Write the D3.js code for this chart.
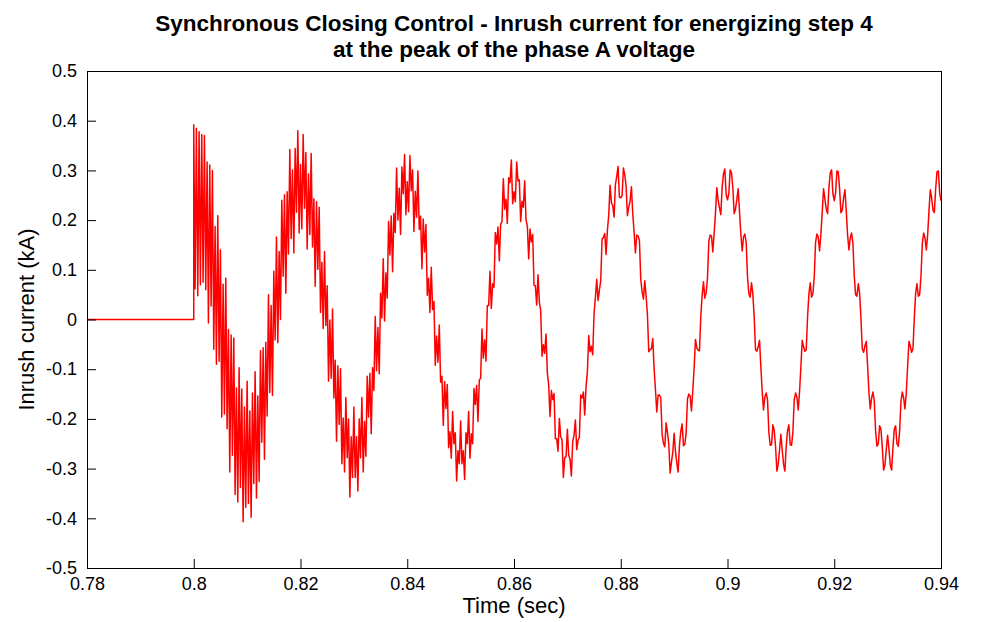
<!DOCTYPE html>
<html>
<head>
<meta charset="utf-8">
<script src="https://cdn.jsdelivr.net/npm/d3@7"></script>
<style>
  body { margin: 0; background: #fff; }
  svg { display: block; font-family: "Liberation Sans", Arial, Helvetica, sans-serif; }
</style>
</head>
<body>
<svg id="chart" width="994" height="622"></svg>
<script>
// axis ticks
const xTicks = [0.78, 0.8, 0.82, 0.84, 0.86, 0.88, 0.9, 0.92, 0.94];
const xTickLabels = ["0.78", "0.8", "0.82", "0.84", "0.86", "0.88", "0.9", "0.92", "0.94"];
const yTicks = [-0.5, -0.4, -0.3, -0.2, -0.1, 0, 0.1, 0.2, 0.3, 0.4, 0.5];
const yTickLabels = ["-0.5", "-0.4", "-0.3", "-0.2", "-0.1", "0", "0.1", "0.2", "0.3", "0.4", "0.5"];

// breaker still open: no current before closing
const preClose = [[0.78, 0], [0.8, 0]];

// recorded inrush current (kA), one sample every 0.25 ms from the closing instant
const closeTime = 0.8;
const dt = 0.00025;

// 0.80 - 0.82 s
const cycle1 = [
  0.392, 0.062, 0.385, 0.048, 0.378, 0.070, 0.372, 0.075, 0.370, 0.060,
  0.317, -0.007, 0.311, 0.027, 0.300, -0.060, 0.187, -0.090, 0.209, -0.084,
  0.140, -0.196, 0.071, -0.190, 0.083, -0.220, -0.020, -0.307, -0.031, -0.273,
  -0.037, -0.352, -0.138, -0.367, -0.097, -0.338, -0.140, -0.407, -0.176, -0.378,
  -0.124, -0.370, -0.184, -0.398, -0.148, -0.330, -0.105, -0.359, -0.154, -0.326,
  -0.063, -0.247, -0.057, -0.281, -0.046, -0.194, 0.050, -0.147, 0.028, -0.153,
  0.097, -0.041, 0.166, -0.047, 0.137, 0.000, 0.240, 0.087, 0.251, 0.053,
  0.257, 0.132, 0.342, 0.163, 0.301, 0.134, 0.344, 0.216, 0.380, 0.174
];
// 0.82 - 0.84 s
const cycle2 = [
  0.312, 0.182, 0.372, 0.224, 0.336, 0.142, 0.293, 0.171, 0.334, 0.146,
  0.243, 0.067, 0.237, 0.101, 0.226, 0.014, 0.115, -0.018, 0.137, -0.012,
  0.068, -0.124, -0.001, -0.118, 0.021, -0.158, -0.082, -0.245, -0.093, -0.211,
  -0.099, -0.290, -0.198, -0.307, -0.157, -0.278, -0.200, -0.357, -0.236, -0.318,
  -0.176, -0.318, -0.236, -0.345, -0.200, -0.278, -0.157, -0.307, -0.205, -0.275,
  -0.114, -0.196, -0.108, -0.230, -0.097, -0.143, 0.006, -0.103, -0.016, -0.109,
  0.053, 0.003, 0.122, -0.003, 0.094, 0.043, 0.197, 0.130, 0.208, 0.096,
  0.214, 0.175, 0.305, 0.200, 0.264, 0.171, 0.307, 0.253, 0.332, 0.211
];
// 0.84 - 0.86 s
const cycle3 = [
  0.277, 0.217, 0.330, 0.259, 0.301, 0.177, 0.258, 0.206, 0.299, 0.181,
  0.208, 0.102, 0.202, 0.136, 0.191, 0.049, 0.083, 0.014, 0.105, 0.020,
  0.036, -0.092, -0.033, -0.086, -0.011, -0.126, -0.114, -0.213, -0.125, -0.179,
  -0.131, -0.258, -0.226, -0.279, -0.185, -0.250, -0.228, -0.325, -0.264, -0.290,
  -0.204, -0.290, -0.264, -0.322, -0.228, -0.250, -0.185, -0.279, -0.230, -0.250,
  -0.139, -0.171, -0.133, -0.205, -0.122, -0.118, -0.019, -0.078, -0.041, -0.084,
  0.028, 0.028, 0.097, 0.022, 0.072, 0.065, 0.175, 0.152, 0.186, 0.118,
  0.192, 0.197, 0.283, 0.222, 0.242, 0.193, 0.285, 0.275, 0.321, 0.233
];
// 0.86 - 0.88 s
const cycle4 = [
  0.257, 0.237, 0.317, 0.279, 0.281, 0.197, 0.238, 0.226, 0.279, 0.201,
  0.188, 0.122, 0.182, 0.156, 0.171, 0.069, 0.068, 0.029, 0.090, 0.035,
  0.018, -0.074, -0.051, -0.068, -0.029, -0.108, -0.132, -0.195, -0.143, -0.161,
  -0.149, -0.240, -0.240, -0.265, -0.199, -0.236, -0.242, -0.318, -0.278, -0.276,
  -0.221, -0.273, -0.281, -0.315, -0.245, -0.233, -0.202, -0.262, -0.243, -0.237,
  -0.152, -0.158, -0.146, -0.192, -0.135, -0.105, -0.032, -0.065, -0.054, -0.071,
  0.012, 0.044, 0.081, 0.038, 0.059, 0.078, 0.162, 0.165, 0.173, 0.131,
  0.179, 0.210, 0.270, 0.235, 0.229, 0.206, 0.272, 0.288, 0.308, 0.246
];
// 0.88 - 0.90 s
const cycle5 = [
  0.245, 0.249, 0.305, 0.291, 0.269, 0.209, 0.226, 0.238, 0.267, 0.213,
  0.176, 0.134, 0.170, 0.168, 0.159, 0.081, 0.056, 0.041, 0.078, 0.047,
  0.009, -0.065, -0.060, -0.059, -0.038, -0.099, -0.141, -0.186, -0.152, -0.152,
  -0.158, -0.231, -0.249, -0.256, -0.208, -0.227, -0.251, -0.309, -0.287, -0.267,
  -0.229, -0.265, -0.289, -0.307, -0.253, -0.225, -0.210, -0.254, -0.251, -0.229,
  -0.160, -0.150, -0.154, -0.184, -0.143, -0.097, -0.040, -0.057, -0.062, -0.063,
  0.007, 0.049, 0.076, 0.043, 0.054, 0.083, 0.157, 0.170, 0.168, 0.136,
  0.174, 0.215, 0.265, 0.240, 0.224, 0.211, 0.267, 0.293, 0.303, 0.251
];
// 0.90 - 0.92 s
const cycle6 = [
  0.241, 0.253, 0.301, 0.295, 0.265, 0.213, 0.222, 0.242, 0.263, 0.217,
  0.172, 0.138, 0.166, 0.172, 0.155, 0.085, 0.052, 0.045, 0.074, 0.051,
  0.005, -0.061, -0.064, -0.055, -0.042, -0.095, -0.145, -0.182, -0.156, -0.148,
  -0.162, -0.227, -0.253, -0.252, -0.212, -0.223, -0.255, -0.305, -0.291, -0.263,
  -0.231, -0.263, -0.291, -0.305, -0.255, -0.223, -0.212, -0.252, -0.253, -0.227,
  -0.162, -0.148, -0.156, -0.182, -0.145, -0.095, -0.042, -0.055, -0.064, -0.061,
  0.005, 0.051, 0.074, 0.045, 0.052, 0.085, 0.155, 0.172, 0.166, 0.138,
  0.172, 0.217, 0.263, 0.242, 0.222, 0.213, 0.265, 0.295, 0.301, 0.253
];
// 0.92 - 0.94 s
const cycle7 = [
  0.239, 0.255, 0.299, 0.297, 0.263, 0.215, 0.220, 0.244, 0.261, 0.219,
  0.170, 0.140, 0.164, 0.174, 0.153, 0.087, 0.050, 0.047, 0.072, 0.053,
  0.003, -0.059, -0.066, -0.053, -0.044, -0.093, -0.147, -0.180, -0.158, -0.146,
  -0.164, -0.225, -0.255, -0.250, -0.214, -0.221, -0.257, -0.303, -0.293, -0.261,
  -0.233, -0.261, -0.293, -0.303, -0.257, -0.221, -0.214, -0.250, -0.255, -0.225,
  -0.164, -0.146, -0.158, -0.180, -0.147, -0.093, -0.044, -0.053, -0.066, -0.059,
  0.003, 0.053, 0.072, 0.047, 0.050, 0.087, 0.153, 0.174, 0.164, 0.140,
  0.170, 0.219, 0.261, 0.244, 0.220, 0.215, 0.263, 0.297, 0.299, 0.255,
  0.239
];

const width = 994, height = 622;
const margin = {top: 71, right: 53, bottom: 54, left: 87};

const svg = d3.select("#chart");

const x = d3.scaleLinear().domain([0.78, 0.94]).range([margin.left, width - margin.right]);
const y = d3.scaleLinear().domain([-0.5, 0.5]).range([height - margin.bottom, margin.top]);

// sample index -> time
const samples = [].concat(cycle1, cycle2, cycle3, cycle4, cycle5, cycle6, cycle7)
  .map((v, i) => [closeTime + i * dt, v]);
const trace = preClose.concat(samples);

svg.append("rect").attr("width", width).attr("height", height).attr("fill", "#fff");

svg.append("clipPath").attr("id", "plot-clip")
  .append("rect")
  .attr("x", margin.left).attr("y", margin.top)
  .attr("width", width - margin.left - margin.right)
  .attr("height", height - margin.top - margin.bottom);

let line = d3.line()
  .x(d => x(d[0]))
  .y(d => y(d[1]));

svg.append("path")
  .datum(trace)
  .attr("clip-path", "url(#plot-clip)")
  .attr("fill", "none")
  .attr("stroke", "#ff0000")
  .attr("stroke-width", 1.5)
  .attr("stroke-linejoin", "round")
  .attr("d", line);

// axes, ticks pointing inside the box
svg.append("g")
  .attr("transform", `translate(0,${height - margin.bottom})`)
  .call(d3.axisBottom(x).tickValues(xTicks).tickFormat((d, i) => xTickLabels[i])
    .tickSizeInner(-9).tickSizeOuter(0).tickPadding(9))
  .attr("font-size", 18).attr("font-family", null)
  .call(g => g.select(".domain").remove())
  .call(g => g.selectAll("line").attr("stroke", "#000"))
  .call(g => g.selectAll("text").attr("fill", "#000"));

svg.append("g")
  .attr("transform", `translate(${margin.left},0)`)
  .call(d3.axisLeft(y).tickValues(yTicks).tickFormat((d, i) => yTickLabels[i])
    .tickSizeInner(-9).tickSizeOuter(0).tickPadding(10))
  .attr("font-size", 18).attr("font-family", null)
  .call(g => g.select(".domain").remove())
  .call(g => g.selectAll("line").attr("stroke", "#000"))
  .call(g => g.selectAll("text").attr("fill", "#000"));

// box
svg.append("rect")
  .attr("x", margin.left).attr("y", margin.top)
  .attr("width", width - margin.left - margin.right)
  .attr("height", height - margin.top - margin.bottom)
  .attr("fill", "none")
  .attr("stroke", "#000")
  .attr("stroke-width", 1)
  .attr("shape-rendering", "crispEdges");

const cx = (margin.left + width - margin.right) / 2;

let title = svg.append("text")
  .attr("text-anchor", "middle")
  .attr("font-size", 22.5)
  .attr("font-weight", "bold")
  .attr("fill", "#000");
title.append("tspan").attr("x", cx).attr("y", 31)
  .text("Synchronous Closing Control - Inrush current for energizing step 4");
title.append("tspan").attr("x", cx).attr("y", 57)
  .text("at the peak of the phase A voltage");

svg.append("text")
  .attr("x", cx).attr("y", 613)
  .attr("text-anchor", "middle")
  .attr("font-size", 22)
  .attr("fill", "#000")
  .text("Time (sec)");

svg.append("text")
  .attr("transform", `translate(34,${(margin.top + height - margin.bottom) / 2}) rotate(-90)`)
  .attr("text-anchor", "middle")
  .attr("font-size", 22)
  .attr("fill", "#000")
  .text("Inrush current (kA)");
</script>
</body>
</html>
